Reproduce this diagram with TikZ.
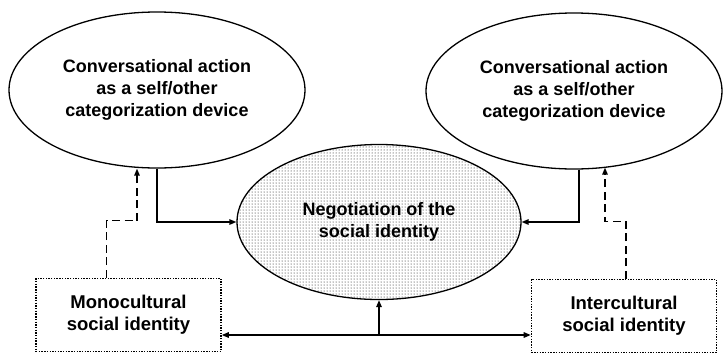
\documentclass[tikz,border=0pt]{standalone}
\usepackage{fontspec}
\setmainfont{Liberation Sans}
\usepackage{tikz}
\usetikzlibrary{arrows.meta, shapes, patterns, positioning}

\begin{document}
\begin{tikzpicture}[x=1pt,y=-1pt,on grid,
	line width=1.4pt, >={Triangle[length=7pt,width=5.5pt]},
	act/.style={ellipse, draw, line width=1.3pt, inner sep=0pt, minimum width=296pt, minimum height=156pt, align=center, font=\fontsize{18}{22}\selectfont\bfseries},
	ident/.style={rectangle, draw, line width=1.6pt, dash pattern=on 1.4pt off 1.3pt, minimum width=185pt, minimum height=73pt, align=center, font=\fontsize{18.5}{22}\selectfont\bfseries},
	dsh/.style={->, dash pattern=on 8pt off 4.5pt}]
	\useasboundingbox (0,0) rectangle (723,354);
	\node[act, fill=gray!18, pattern=dots, minimum width=284pt, minimum height=155pt] (neg) at (379,222) {Negotiation of the\\social identity};
	\node[act, above left = 132pt and 222pt of neg] (convL) {Conversational action\\as a self/other\\categorization device};
	\node[act, above right = 131pt and 195pt of neg] (convR) {Conversational action\\as a self/other\\categorization device};
	\node[ident, below left = 93pt and 250.5pt of neg] (mono) {Monocultural\\social identity};
	\node[ident, below right = 94pt and 245pt of neg] (inter) {Intercultural\\social identity};
	\coordinate (base) at (379,335);
	
	\draw[->] (convL.south) |- (neg.west);
	\draw[->] ([xshift=5pt]convR.south) |- (neg.east);
	\draw[dsh] ([xshift=-22pt]mono.north) -- ++(0,-57) -| ([xshift=-20pt]convL.south);
	\draw[dsh] ([xshift=2pt]inter.north) -- ++(0,-57) -| ([xshift=31pt,yshift=2pt]convR.south);
	\draw[<->] (mono.east |- base) -- (inter.west |- base);
	\draw[->] (base) -- (neg.south);
\end{tikzpicture}
\end{document}
